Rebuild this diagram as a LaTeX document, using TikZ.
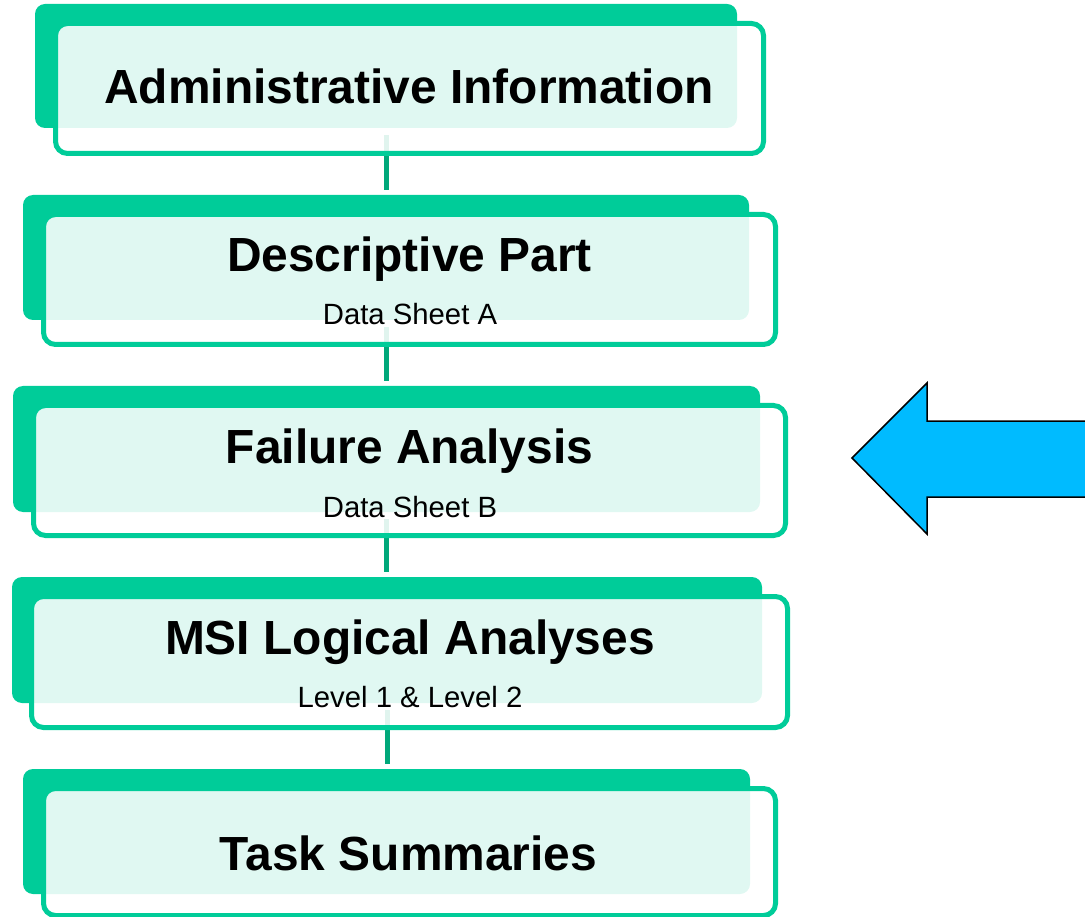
\documentclass[tikz,border=0pt]{standalone}
\usepackage{fontspec}
\setmainfont{Liberation Sans}
\definecolor{boxgreen}{HTML}{00CC99}
\definecolor{linkgreen}{HTML}{00A87A}
\definecolor{arrowblue}{HTML}{00BBFF}
\begin{document}
\begin{tikzpicture}[x=1pt,y=-1pt,
  backbox/.style={rectangle, rounded corners=10pt, fill=boxgreen, inner sep=0pt},
  frontbox/.style={rectangle, rounded corners=12pt, draw=boxgreen, line width=5pt,
                   fill=white, fill opacity=0.88, inner sep=0pt},
  title/.style={anchor=base, inner sep=0pt, font=\bfseries\fontsize{47.9}{57}\selectfont},
  subtitle/.style={anchor=base, inner sep=0pt, font=\fontsize{29.3}{35}\selectfont},
  link/.style={draw=linkgreen, line width=5pt, shorten <=7pt, shorten >=5pt}]
\useasboundingbox (0,0) rectangle (1085,917);

% green backing panels
\node[backbox, minimum width=702pt, minimum height=124pt] (b1) at (386,66) {};
\node[backbox, minimum width=726pt, minimum height=125pt] (b2) at (386,257.5) {};
\node[backbox, minimum width=747pt, minimum height=126pt] (b3) at (386.5,449) {};
\node[backbox, minimum width=750pt, minimum height=126pt] (b4) at (387,640) {};
\node[backbox, minimum width=727pt, minimum height=125pt] (b5) at (386.5,831.5) {};

% vertical links between the stages
\draw[link] (b1.south) -- (b1.south |- b2.north);
\draw[link] (b2.south) -- (b2.south |- b3.north);
\draw[link] (b3.south) -- (b3.south |- b4.north);
\draw[link] (b4.south) -- (b4.south |- b5.north);

% translucent outlined front panels
\node[frontbox, minimum width=708pt, minimum height=130pt] (f1) at (409.5,88.5) {};
\node[frontbox, minimum width=732pt, minimum height=130pt] (f2) at (409.5,279.5) {};
\node[frontbox, minimum width=752pt, minimum height=130pt] (f3) at (409.5,470.5) {};
\node[frontbox, minimum width=756pt, minimum height=131pt] (f4) at (409.5,662) {};
\node[frontbox, minimum width=732pt, minimum height=127pt] (f5) at (409.5,852) {};

% labels
\node[title] (t1) at (409,104) {Administrative Information};
\node[title] (t2) at (409.5,272) {Descriptive Part};
\node[subtitle] (s2) at (410,325) {Data Sheet A};
\node[title] (t3) at (409.5,463) {Failure Analysis};
\node[subtitle] (s3) at (410,517) {Data Sheet B};
\node[title] (t4) at (410,654) {MSI Logical Analyses};
\node[subtitle] (s4) at (410,707) {Level 1 \& Level 2};
\node[title] (t5) at (408.5,870) {Task Summaries};

% pointer arrow
\draw[fill=arrowblue, draw=black, line width=1.5pt, line join=miter]
  (852,458) -- (927,383) -- (927,421) -- (1095,421) -- (1095,497)
  -- (927,497) -- (927,534) -- cycle;
\end{tikzpicture}
\end{document}
